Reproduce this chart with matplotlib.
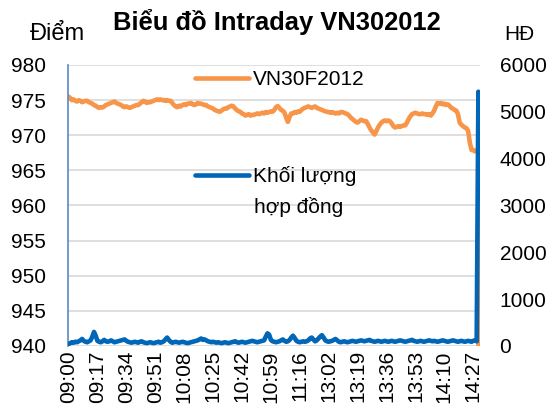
import matplotlib.pyplot as plt

plt.rcParams['font.family'] = ['Liberation Sans', 'DejaVu Sans']

# Giá VN30F2012 theo từng phút (điểm)
gia = [
    975.5, 975.3, 975.0, 975.1, 974.9, 974.8, 975.0, 974.9, 974.7, 974.8,
    974.9, 974.9, 974.7, 974.6, 974.5, 974.3, 974.2, 974.0, 973.9, 974.0,
    973.95, 974.1, 974.3, 974.4, 974.5, 974.6, 974.7, 974.8, 974.6, 974.5,
    974.4, 974.3, 974.1, 974.0, 974.1, 974.0, 973.9, 974.0, 974.1, 974.2,
    974.3, 974.3, 974.5, 974.7, 974.9, 974.8, 974.6, 974.7, 974.7, 974.8,
    974.9, 975.0, 975.1, 975.0, 975.1, 975.0, 975.0, 974.9, 975.0, 974.9,
    974.9, 974.6, 974.3, 974.1, 974.0, 974.2, 974.1, 974.3, 974.4, 974.3,
    974.5, 974.5, 974.6, 974.4, 974.3, 974.4, 974.6, 974.5, 974.5, 974.4,
    974.3, 974.3, 974.1, 974.0, 973.9, 973.8, 973.6, 973.5, 973.4, 973.35,
    973.5, 973.7, 973.8, 973.8, 974.0, 974.1, 974.2, 974.1, 973.8, 973.6,
    973.4, 973.35, 973.1, 973.0, 972.8, 972.9, 973.0, 972.8, 972.9, 972.9,
    973.0, 973.1, 973.0, 973.1, 973.2, 973.1, 973.3, 973.2, 973.3, 973.4,
    973.35, 973.6, 974.0, 974.15, 973.9, 973.6, 973.5, 973.2, 972.5, 971.9,
    972.6, 973.1, 973.1, 973.3, 973.2, 973.4, 973.35, 973.6, 973.8, 973.9,
    974.0, 974.1, 974.0, 973.9, 974.0, 974.1, 973.9, 973.8, 973.7, 973.6,
    973.5, 973.4, 973.35, 973.3, 973.2, 973.3, 973.2, 973.1, 973.2, 973.1,
    973.3, 973.3, 973.2, 973.1, 973.0, 972.8, 972.5, 972.3, 972.1, 971.9,
    971.8, 972.0, 972.2, 972.1, 972.0, 972.0, 971.6, 971.1, 970.7, 970.4,
    970.1, 970.6, 971.1, 971.5, 971.8, 972.0, 972.1, 972.0, 972.1, 972.0,
    971.7, 971.3, 971.1, 971.2, 971.3, 971.2, 971.3, 971.4, 971.4, 971.8,
    972.3, 972.7, 973.0, 973.1, 973.2, 973.1, 973.0, 973.0, 973.1, 973.0,
    973.0, 972.9, 973.0, 972.8, 973.1, 973.5, 974.1, 974.6, 974.5, 974.6,
    974.4, 974.5, 974.3, 974.4, 974.2, 973.9, 973.8, 973.6, 973.5, 973.0,
    971.8, 971.5, 971.3, 971.1, 971.0, 970.6, 968.9, 967.9, 967.9, 967.7,
    967.8, 968.0, 0,
]

# Khối lượng hợp đồng theo từng phút
khoi_luong = [
    40, 60, 80, 70, 90, 80, 100, 120, 150, 110,
    90, 80, 100, 120, 200, 300, 220, 110, 90, 80,
    100, 130, 100, 90, 100, 120, 100, 80, 90, 100,
    110, 120, 130, 140, 110, 90, 80, 70, 80, 90,
    80, 70, 90, 100, 80, 70, 60, 70, 80, 70,
    60, 70, 80, 90, 70, 80, 100, 140, 180, 130,
    90, 70, 80, 90, 80, 70, 80, 90, 80, 70,
    60, 70, 80, 90, 100, 110, 120, 140, 160, 130,
    140, 120, 100, 90, 80, 90, 80, 70, 80, 70,
    60, 70, 80, 70, 60, 70, 80, 90, 100, 80,
    70, 80, 90, 80, 70, 80, 90, 100, 110, 100,
    90, 80, 90, 100, 110, 120, 200, 270, 240, 130,
    100, 90, 80, 90, 100, 120, 140, 110, 90, 100,
    130, 180, 220, 170, 110, 90, 80, 90, 100, 90,
    100, 120, 160, 180, 140, 100, 120, 160, 200, 230,
    180, 120, 100, 90, 100, 110, 130, 150, 120, 90,
    80, 90, 100, 90, 80, 90, 100, 110, 100, 90,
    100, 110, 120, 110, 100, 110, 120, 130, 110, 100,
    90, 100, 110, 100, 90, 100, 110, 100, 90, 100,
    110, 100, 90, 100, 110, 120, 110, 100, 90, 100,
    110, 120, 130, 110, 100, 90, 100, 110, 100, 90,
    100, 110, 120, 110, 100, 110, 100, 90, 100, 110,
    120, 110, 100, 90, 100, 110, 120, 110, 100, 90,
    100, 110, 100, 90, 100, 110, 100, 90, 110, 120,
    100, 5430, 3160,
]

nhan_gio = ['09:00', '09:17', '09:34', '09:51', '10:08', '10:25', '10:42',
            '10:59', '11:16', '13:02', '13:19', '13:36', '13:53', '14:10',
            '14:27']

cam = '#F7964A'
xanh = '#0066B8'
co_chu = 15

fig = plt.figure(figsize=(5.55, 4.15), dpi=100)
ax = fig.add_axes([0.1234, 0.1663, 0.7416, 0.6771])
ax2 = ax.twinx()

x = list(range(len(gia)))
ax.plot(x, gia, color=cam, lw=3.3, label='VN30F2012', solid_capstyle='round')
ax2.plot(x, khoi_luong, color=xanh, lw=3.3, label='Khối lượng',
         solid_capstyle='round')

ax.set_xlim(0, len(gia) - 1)
ax.set_ylim(940, 980)
ax.set_yticks(range(940, 981, 5))
ax2.set_ylim(0, 6000)
ax2.set_yticks(range(0, 6001, 1000))

ax.set_xticks(range(0, 17 * len(nhan_gio), 17))
ax.set_xticklabels(nhan_gio, rotation=90)

ax.grid(axis='y', color='#D9D9D9', lw=1.2)
ax.set_axisbelow(True)
for a in (ax, ax2):
    a.tick_params(length=0, labelsize=co_chu)
    for s in ('top', 'right', 'bottom', 'left'):
        a.spines[s].set_visible(False)
ax.tick_params(axis='y', pad=16)
ax.tick_params(axis='x', pad=3)
ax2.tick_params(axis='y', pad=14)
ax.spines['left'].set_visible(True)
ax.spines['left'].set_color('#5B87C8')
ax.spines['left'].set_linewidth(1.2)

fig.text(0.499, 0.947, 'Biểu đồ Intraday VN302012', ha='center', va='center',
         fontsize=18.4, fontweight='bold')
fig.text(0.104, 0.918, 'Điểm', ha='center', va='center', fontsize=17)
fig.text(0.935, 0.918, 'HĐ', ha='center', va='center', fontsize=co_chu)

ax.legend(loc='center left', bbox_to_anchor=(0.351, 0.808),
          bbox_transform=fig.transFigure, frameon=False, fontsize=co_chu,
          handlelength=2.62, handletextpad=0.19, borderpad=0, borderaxespad=0)
ax2.legend(loc='center left', bbox_to_anchor=(0.351, 0.576),
           bbox_transform=fig.transFigure, frameon=False, fontsize=co_chu,
           handlelength=2.62, handletextpad=0.19, borderpad=0, borderaxespad=0)
fig.text(0.4577, 0.501, 'hợp đồng', ha='left', va='center', fontsize=co_chu)

fig.savefig('out.png', dpi=100)
